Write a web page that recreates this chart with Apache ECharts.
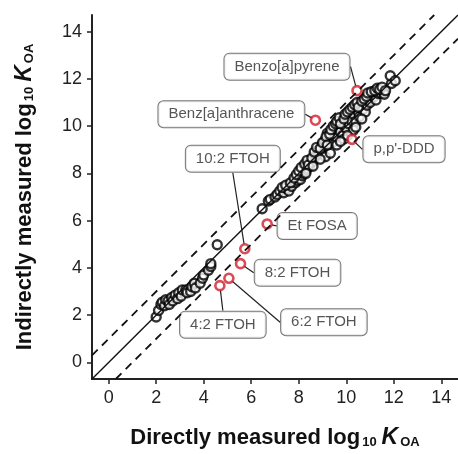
<!DOCTYPE html>
<html>
<head>
<meta charset="utf-8">
<script src="https://cdn.jsdelivr.net/npm/echarts@6/dist/echarts.min.js"></script>
<style>
  html, body { margin: 0; padding: 0; background: #fff; }
  #koaChart { width: 458px; height: 454px; }
</style>
</head>
<body>
<div id="koaChart"></div>
<script>
// axis ticks
const tickValues = [0, 2, 4, 6, 8, 10, 12, 14];
const axisMin = -0.7;
const axisMax = 14.7;
// dashed lines are 1:1 +/- this many log units
const bandOffset = 1;

// black open circles: [direct, indirect]
const otherPoints = [
  [2.0, 1.92], [2.1, 2.2], [2.2, 2.45], [2.25, 2.55], [2.35, 2.4], [2.4, 2.65],
  [2.5, 2.6], [2.55, 2.45], [2.65, 2.75], [2.7, 2.6], [2.8, 2.85], [2.9, 2.7],
  [2.95, 2.95], [3.05, 2.8], [3.1, 3.07], [3.25, 3.07], [3.3, 2.95], [3.45, 3.0],
  [3.5, 3.2], [3.6, 3.35], [3.65, 3.15], [3.85, 3.35], [3.95, 3.56], [4.0, 3.7],
  [4.2, 3.9], [4.3, 4.06], [4.3, 4.18], [4.57, 4.98],
  [6.46, 6.5], [6.72, 6.83], [6.8, 6.9], [7.0, 7.0], [7.09, 7.11], [7.2, 7.25],
  [7.37, 7.18], [7.5, 7.35], [7.58, 7.25], [7.7, 7.45], [7.86, 7.6], [7.95, 7.7],
  [8.07, 7.74], [8.15, 7.9], [8.2, 8.0], [8.3, 8.1], [8.34, 8.2], [8.45, 8.3],
  [8.5, 8.45], [8.6, 8.5], [8.7, 8.7], [8.8, 8.8], [8.84, 9.0], [8.95, 8.85],
  [8.98, 9.2], [9.05, 9.13], [9.1, 9.4], [9.12, 8.7], [9.2, 9.7], [9.26, 9.27],
  [9.33, 8.85], [9.4, 9.5], [9.47, 9.34], [9.47, 9.62], [9.55, 9.8], [9.6, 9.5],
  [9.68, 9.97], [9.75, 9.76], [9.8, 10.25], [9.85, 9.6], [9.9, 10.04], [10.0, 9.9],
  [10.03, 10.32], [10.1, 10.1], [10.17, 10.46], [10.2, 10.25], [10.3, 10.5], [10.3, 9.83],
  [10.4, 10.2], [10.5, 10.6], [10.55, 10.4], [10.6, 10.88], [10.7, 10.7], [10.8, 10.6],
  [10.87, 10.88], [10.95, 11.1], [11.0, 11.0], [11.1, 11.3], [11.15, 11.23], [11.25, 11.1],
  [11.35, 11.38], [11.45, 11.4], [11.57, 11.43], [11.6, 11.35], [11.9, 11.8], [11.85, 12.13],
  [12.06, 11.92],
  [7.3, 7.4], [7.45, 7.5], [7.65, 7.6], [7.8, 7.8], [7.9, 7.95], [8.0, 8.1],
  [8.1, 8.25], [8.25, 8.4], [8.35, 8.55], [8.4, 8.35], [8.55, 8.65], [8.65, 8.9],
  [8.75, 9.1], [8.9, 9.05], [9.0, 9.3], [9.15, 9.55], [9.2, 9.2], [9.3, 9.65],
  [9.35, 9.85], [9.45, 10.0], [9.55, 10.1], [9.6, 10.2], [9.7, 10.35], [9.75, 10.1],
  [9.9, 10.3], [9.95, 10.5], [10.05, 10.6], [10.15, 10.7], [10.25, 10.8], [10.35, 10.9],
  [10.45, 11.0], [10.5, 10.8], [10.65, 11.05], [10.75, 11.15], [10.85, 11.25], [10.9, 11.4],
  [11.05, 11.45], [11.2, 11.5], [11.3, 11.6], [11.4, 11.55], [11.5, 11.65], [11.65, 11.5],
  [9.6, 9.2], [9.9, 9.45], [10.05, 9.6], [9.75, 9.35], [8.9, 8.6], [8.6, 8.3],
  [8.3, 8.0], [10.4, 9.95], [10.65, 10.3]
];

// highlighted compounds
const namedCompounds = ['Benzo[a]pyrene', 'Benz[a]anthracene', "p,p'-DDD", 'Et FOSA',
  '10:2 FTOH', '8:2 FTOH', '6:2 FTOH', '4:2 FTOH'];
const namedDirect = [10.45, 8.7, 10.24, 6.67, 5.73, 5.55, 5.06, 4.68];
const namedIndirect = [11.5, 10.25, 9.44, 5.86, 4.81, 4.18, 3.56, 3.25];

// label box offsets from the point (px)
const labelShift = [[-70, -24], [-84, -6], [52, 10], [50, 2], [-12, -90], [57, 9], [95, 44], [3, 39]];

const koaChart = echarts.init(document.getElementById('koaChart'));
const font = 'Liberation Sans, Arial, sans-serif';

const namedData = namedCompounds.map((n, i) => ({ name: n, value: [namedDirect[i], namedIndirect[i]] }));

const axisTitle = {
  b: { fontSize: 22, fontWeight: 'bold', color: '#111', fontFamily: font },
  s: { fontSize: 13, fontWeight: 'bold', color: '#111', fontFamily: font, padding: [10, 0, 0, 2] },
  k: { fontSize: 23, fontWeight: 'bold', fontStyle: 'italic', color: '#111', fontFamily: font, padding: [0, 0, 0, 5] }
};

function baseAxis(name, gap) {
  return {
    type: 'value',
    min: axisMin,
    max: axisMax,
    name: name,
    nameLocation: 'middle',
    nameGap: gap,
    nameTextStyle: { rich: axisTitle },
    axisLine: { show: true, onZero: false, lineStyle: { color: '#222', width: 2 } },
    axisTick: { show: true, customValues: tickValues, length: 5, lineStyle: { color: '#222', width: 1.5 } },
    axisLabel: { customValues: tickValues, fontSize: 18, color: '#222', fontFamily: font, margin: 10 },
    splitLine: { show: false }
  };
}

const koaOpt = {
  animation: false,
  grid: { left: 92, top: 15, width: 366, height: 366 },
  xAxis: baseAxis('{b|Directly measured log}{s|10}{k|K}{s|OA}', 47),
  yAxis: baseAxis('{b|Indirectly measured log}{s|10}{k|K}{s|OA}', 56),
  series: [
    {
      type: 'line', symbol: 'none', silent: true, clip: true,
      lineStyle: { color: '#111', width: 1.4 },
      data: [[axisMin, axisMin], [axisMax, axisMax]]
    },
    {
      type: 'line', symbol: 'none', silent: true, clip: true,
      lineStyle: { color: '#111', width: 1.8, type: [8, 6] },
      data: [[axisMin, axisMin + bandOffset], [axisMax - bandOffset, axisMax]]
    },
    {
      type: 'line', symbol: 'none', silent: true, clip: true,
      lineStyle: { color: '#111', width: 1.8, type: [8, 6] },
      data: [[axisMin + bandOffset, axisMin], [axisMax, axisMax - bandOffset]]
    },
    {
      type: 'scatter', symbol: 'circle', symbolSize: 9,
      itemStyle: { color: '#fff', borderColor: '#000', borderWidth: 2.4 },
      data: otherPoints
    },
    {
      type: 'scatter', symbol: 'circle', symbolSize: 9,
      itemStyle: { color: '#fff', borderColor: '#d01f2a', borderWidth: 2.6 },
      label: {
        show: true, position: 'inside', formatter: '{b}',
        fontSize: 15, color: '#2a2a2a', fontFamily: font,
        backgroundColor: '#fff', borderColor: '#555', borderWidth: 1, borderRadius: 5,
        padding: [6, 10, 5, 10]
      },
      labelLine: { show: true, lineStyle: { color: '#222', width: 1.2 } },
      labelLayout: function (p) {
        const s = labelShift[p.dataIndex];
        return { dx: s[0], dy: s[1] };
      },
      data: namedData
    }
  ]
};

koaChart.setOption(koaOpt);
</script>
</body>
</html>
